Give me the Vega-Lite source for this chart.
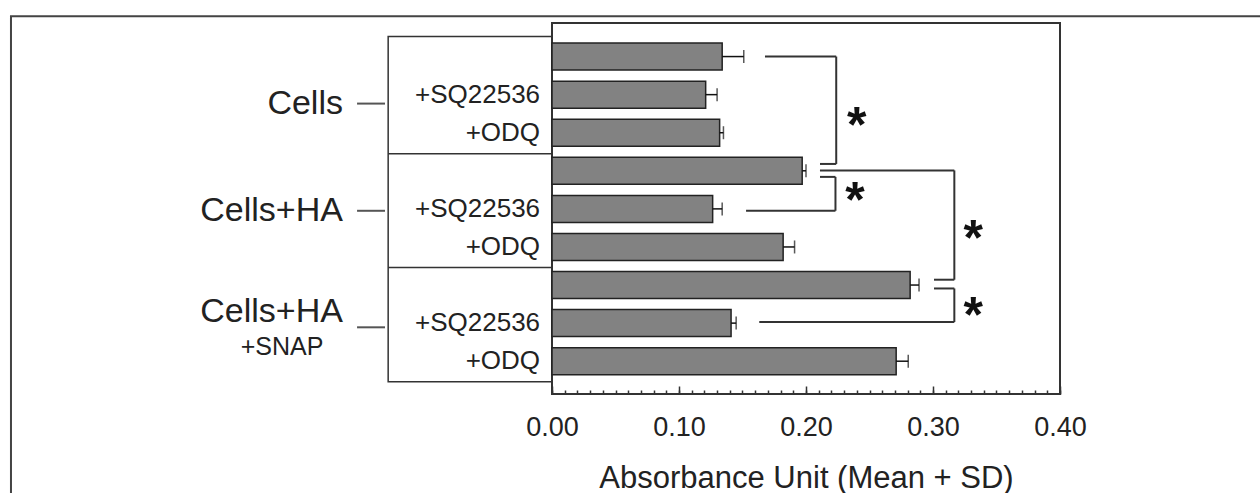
{
  "$schema": "https://vega.github.io/schema/vega-lite/v6.json",
  "width": 508,
  "height": 371,
  "autosize": {"type": "none"},
  "padding": {"left": 552, "top": 23, "right": 200, "bottom": 99},
  "background": "white",
  "config": {
    "view": {"stroke": "#333", "strokeWidth": 2},
    "font": "Liberation Sans"
  },
  "resolve": {"scale": {"x": "shared", "y": "shared"}, "axis": {"x": "independent"}},
  "datasets": {
    "bars": [
      {"pos": 1, "treatment": "", "mean": 0.134, "upper": 0.151},
      {"pos": 2, "treatment": "+SQ22536", "mean": 0.121, "upper": 0.130},
      {"pos": 3, "treatment": "+ODQ", "mean": 0.132, "upper": 0.135},
      {"pos": 4, "treatment": "", "mean": 0.197, "upper": 0.200},
      {"pos": 5, "treatment": "+SQ22536", "mean": 0.1265, "upper": 0.134},
      {"pos": 6, "treatment": "+ODQ", "mean": 0.182, "upper": 0.191},
      {"pos": 7, "treatment": "", "mean": 0.282, "upper": 0.289},
      {"pos": 8, "treatment": "+SQ22536", "mean": 0.141, "upper": 0.145},
      {"pos": 9, "treatment": "+ODQ", "mean": 0.271, "upper": 0.2805}
    ],
    "groups": [
      {"label": "Cells", "pos": 2.235},
      {"label": "Cells+HA", "pos": 5.05},
      {"label": "Cells+HA", "pos": 7.7}
    ],
    "leaders": [
      {"pos": 2.235},
      {"pos": 5.05},
      {"pos": 8.11}
    ],
    "sub": [
      {"label": "+SNAP", "pos": 8.62}
    ],
    "box": [
      {"x": -0.129, "x2": 0, "y": 0.47, "y2": 9.54}
    ],
    "dividers": [
      {"y": 3.55},
      {"y": 6.54}
    ],
    "frame": [
      {"x": -0.426, "x2": 0.62, "y": -0.06, "y2": 13}
    ],
    "brackets": [
      {"x": 0.1677, "x2": 0.2238, "y": 1.0, "y2": 1.0},
      {"x": 0.2238, "x2": 0.2238, "y": 1.0, "y2": 3.82},
      {"x": 0.211, "x2": 0.2238, "y": 3.82, "y2": 3.82},
      {"x": 0.211, "x2": 0.2232, "y": 4.16, "y2": 4.16},
      {"x": 0.2232, "x2": 0.2232, "y": 4.16, "y2": 5.05},
      {"x": 0.1528, "x2": 0.2232, "y": 5.05, "y2": 5.05},
      {"x": 0.211, "x2": 0.3168, "y": 3.99, "y2": 3.99},
      {"x": 0.3168, "x2": 0.3168, "y": 3.99, "y2": 6.86},
      {"x": 0.3008, "x2": 0.3168, "y": 6.86, "y2": 6.86},
      {"x": 0.3008, "x2": 0.3168, "y": 7.09, "y2": 7.09},
      {"x": 0.3168, "x2": 0.3168, "y": 7.09, "y2": 7.97},
      {"x": 0.1632, "x2": 0.3168, "y": 7.97, "y2": 7.97}
    ],
    "stars": [
      {"x": 0.2399, "y": 2.64},
      {"x": 0.2386, "y": 4.60},
      {"x": 0.3317, "y": 5.62},
      {"x": 0.3317, "y": 7.63}
    ]
  },
  "layer": [
    {
      "data": {"name": "frame"},
      "mark": {"type": "rect", "filled": false, "fillOpacity": 0, "stroke": "#444", "strokeWidth": 2},
      "encoding": {
        "x": {
          "field": "x", "type": "quantitative",
          "scale": {"domain": [0, 0.4], "nice": false, "zero": false},
          "axis": {
            "orient": "bottom", "title": null, "labels": false,
            "tickCount": 40, "tickSize": -4,
            "tickColor": "#333", "tickWidth": 1.5,
            "domain": false, "grid": false, "zindex": 1
          }
        },
        "x2": {"field": "x2"},
        "y": {"field": "y", "type": "quantitative", "scale": {"domain": [0.25, 9.73], "reverse": true, "nice": false, "zero": false}, "axis": null},
        "y2": {"field": "y2"}
      }
    },
    {
      "data": {"name": "box"},
      "mark": {"type": "rect", "filled": false, "fillOpacity": 0, "stroke": "#333", "strokeWidth": 1.5},
      "encoding": {
        "x": {"field": "x", "type": "quantitative", "scale": {"domain": [0, 0.4], "nice": false, "zero": false}, "axis": null},
        "x2": {"field": "x2"},
        "y": {"field": "y", "type": "quantitative", "scale": {"domain": [0.25, 9.73], "reverse": true, "nice": false, "zero": false}, "axis": null},
        "y2": {"field": "y2"}
      }
    },
    {
      "data": {"name": "dividers"},
      "mark": {"type": "rule", "stroke": "#333", "strokeWidth": 1.5},
      "encoding": {
        "x": {"datum": -0.129, "type": "quantitative", "scale": {"domain": [0, 0.4], "nice": false, "zero": false}, "axis": null},
        "x2": {"datum": 0},
        "y": {"field": "y", "type": "quantitative", "scale": {"domain": [0.25, 9.73], "reverse": true, "nice": false, "zero": false}, "axis": null}
      }
    },
    {
      "data": {"name": "leaders"},
      "mark": {"type": "rule", "stroke": "#555", "strokeWidth": 2},
      "encoding": {
        "x": {"datum": -0.1535, "type": "quantitative", "scale": {"domain": [0, 0.4], "nice": false, "zero": false}, "axis": null},
        "x2": {"datum": -0.1315},
        "y": {"field": "pos", "type": "quantitative", "scale": {"domain": [0.25, 9.73], "reverse": true, "nice": false, "zero": false}, "axis": null}
      }
    },
    {
      "data": {"name": "groups"},
      "mark": {"type": "text", "align": "right", "baseline": "middle", "font": "Liberation Sans", "fontSize": 34, "color": "#222"},
      "encoding": {
        "x": {"datum": -0.1646, "type": "quantitative", "scale": {"domain": [0, 0.4], "nice": false, "zero": false}, "axis": null},
        "y": {"field": "pos", "type": "quantitative", "scale": {"domain": [0.25, 9.73], "reverse": true, "nice": false, "zero": false}, "axis": null},
        "text": {"field": "label"}
      }
    },
    {
      "data": {"name": "sub"},
      "mark": {"type": "text", "align": "center", "baseline": "middle", "font": "Liberation Sans", "fontSize": 25, "color": "#222"},
      "encoding": {
        "x": {"datum": -0.2126, "type": "quantitative", "scale": {"domain": [0, 0.4], "nice": false, "zero": false}, "axis": null},
        "y": {"field": "pos", "type": "quantitative", "scale": {"domain": [0.25, 9.73], "reverse": true, "nice": false, "zero": false}, "axis": null},
        "text": {"field": "label"}
      }
    },
    {
      "data": {"name": "bars"},
      "transform": [{"filter": "datum.treatment != ''"}],
      "mark": {"type": "text", "align": "right", "baseline": "middle", "font": "Liberation Sans", "fontSize": 26, "color": "#222"},
      "encoding": {
        "x": {"datum": -0.0094, "type": "quantitative", "scale": {"domain": [0, 0.4], "nice": false, "zero": false}, "axis": null},
        "y": {"field": "pos", "type": "quantitative", "scale": {"domain": [0.25, 9.73], "reverse": true, "nice": false, "zero": false}, "axis": null},
        "text": {"field": "treatment"}
      }
    },
    {
      "data": {"name": "bars"},
      "mark": {"type": "bar", "orient": "horizontal", "size": 27, "fill": "#828282", "stroke": "#222", "strokeWidth": 1.5},
      "encoding": {
        "x": {
          "field": "mean", "type": "quantitative", "stack": null,
          "scale": {"domain": [0, 0.4], "nice": false, "zero": false},
          "axis": {
            "orient": "bottom",
            "title": "Absorbance Unit (Mean + SD)",
            "titleFont": "Liberation Sans", "titleFontSize": 31, "titleFontWeight": "normal", "titleColor": "#222",
            "titlePadding": 23,
            "labelFont": "Liberation Sans", "labelFontSize": 27, "labelColor": "#222",
            "labelFlush": false, "labelOverlap": false, "labelPadding": 28,
            "values": [0, 0.1, 0.2, 0.3, 0.4], "format": ".2f",
            "tickSize": -8, "tickColor": "#333", "tickWidth": 1.5,
            "domain": false, "grid": false, "zindex": 1
          }
        },
        "y": {"field": "pos", "type": "quantitative", "scale": {"domain": [0.25, 9.73], "reverse": true, "nice": false, "zero": false}, "axis": null}
      }
    },
    {
      "data": {"name": "bars"},
      "mark": {"type": "rule", "stroke": "#111", "strokeWidth": 1.5},
      "encoding": {
        "x": {"field": "mean", "type": "quantitative", "scale": {"domain": [0, 0.4], "nice": false, "zero": false}, "axis": null},
        "x2": {"field": "upper"},
        "y": {"field": "pos", "type": "quantitative", "scale": {"domain": [0.25, 9.73], "reverse": true, "nice": false, "zero": false}, "axis": null}
      }
    },
    {
      "data": {"name": "bars"},
      "mark": {"type": "tick", "orient": "vertical", "size": 13, "thickness": 1.5, "color": "#111"},
      "encoding": {
        "x": {"field": "upper", "type": "quantitative", "scale": {"domain": [0, 0.4], "nice": false, "zero": false}, "axis": null},
        "y": {"field": "pos", "type": "quantitative", "scale": {"domain": [0.25, 9.73], "reverse": true, "nice": false, "zero": false}, "axis": null}
      }
    },
    {
      "data": {"name": "brackets"},
      "mark": {"type": "rule", "stroke": "#333", "strokeWidth": 2},
      "encoding": {
        "x": {"field": "x", "type": "quantitative", "scale": {"domain": [0, 0.4], "nice": false, "zero": false}, "axis": null},
        "x2": {"field": "x2"},
        "y": {"field": "y", "type": "quantitative", "scale": {"domain": [0.25, 9.73], "reverse": true, "nice": false, "zero": false}, "axis": null},
        "y2": {"field": "y2"}
      }
    },
    {
      "data": {"name": "stars"},
      "mark": {"type": "text", "text": "*", "align": "center", "baseline": "middle", "dy": 8, "font": "Liberation Sans", "fontSize": 50, "fontWeight": "bold", "color": "#111"},
      "encoding": {
        "x": {"field": "x", "type": "quantitative", "scale": {"domain": [0, 0.4], "nice": false, "zero": false}, "axis": null},
        "y": {"field": "y", "type": "quantitative", "scale": {"domain": [0.25, 9.73], "reverse": true, "nice": false, "zero": false}, "axis": null}
      }
    }
  ]
}
